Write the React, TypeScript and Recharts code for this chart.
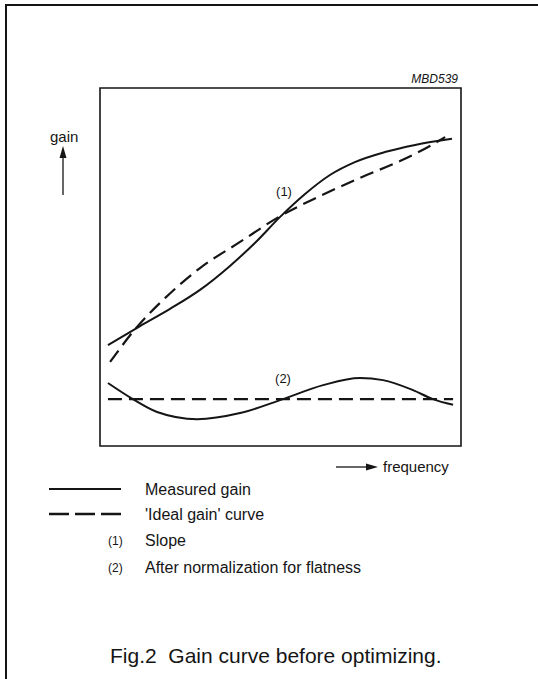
import React from 'react';
import { LineChart, Line, XAxis, YAxis, ReferenceArea } from 'recharts';

// x: frequency (0-100, arbitrary), y: gain (0-100, arbitrary)
const measuredSlopeX = [2.2, 11.1, 19.4, 27.7, 36.0, 42.9, 49.9, 56.8, 63.7, 70.6, 78.9, 87.3, 97.5];
const measuredSlopeY = [28.2, 33.5, 38.3, 43.6, 50.3, 56.7, 64.0, 70.4, 75.7, 79.3, 82.1, 84.1, 85.8];

const idealSlopeX = [2.8, 10.2, 18.0, 27.7, 38.8, 49.9, 60.9, 72.0, 83.1, 91.4, 95.6];
const idealSlopeY = [23.5, 33.2, 41.3, 49.7, 57.0, 64.2, 69.8, 74.9, 79.6, 83.8, 86.3];

const measuredFlatX = [2.2, 9.1, 15.8, 26.9, 38.8, 50.7, 61.8, 72.0, 78.4, 86.7, 92.2, 97.8];
const measuredFlatY = [17.6, 13.1, 9.5, 7.5, 9.2, 13.1, 17.0, 19.0, 18.4, 15.6, 13.1, 11.5];

const idealFlatX = [2.2, 97.8];
const idealFlatY = [13.1, 13.1];

const legendItems = ['Measured gain', "'Ideal gain' curve"];
const noteLabels = ['(1)', '(2)'];
const noteTexts = ['Slope', 'After normalization for flatness'];

const toPoints = (xs: number[], ys: number[]) => xs.map((x, i) => ({ x, y: ys[i] }));

const INK = '#151515';
const FONT = '"Liberation Sans", Arial, Helvetica, sans-serif';

export default function App() {
  return (
    <div style={{ position: 'absolute', left: 0, top: 0, width: 538, height: 679, background: '#fff', fontFamily: FONT }}>
      <LineChart width={538} height={679} margin={{ top: 88, right: 77, bottom: 233, left: 100 }}>
        <XAxis type="number" dataKey="x" domain={[0, 100]} hide />
        <YAxis type="number" dataKey="y" domain={[0, 100]} hide />
        <ReferenceArea x1={0} x2={100} y1={0} y2={100} fill="none" stroke={INK} strokeWidth={1.6} fillOpacity={0} />
        <Line data={toPoints(measuredSlopeX, measuredSlopeY)} dataKey="y" type="monotone" stroke={INK} strokeWidth={2} dot={false} isAnimationActive={false} />
        <Line data={toPoints(idealSlopeX, idealSlopeY)} dataKey="y" type="monotone" stroke={INK} strokeWidth={2.2} strokeDasharray="14 7" dot={false} isAnimationActive={false} />
        <Line data={toPoints(measuredFlatX, measuredFlatY)} dataKey="y" type="monotone" stroke={INK} strokeWidth={2} dot={false} isAnimationActive={false} />
        <Line data={toPoints(idealFlatX, idealFlatY)} dataKey="y" type="linear" stroke={INK} strokeWidth={2.4} strokeDasharray="14 7" dot={false} isAnimationActive={false} />
      </LineChart>

      <svg width={538} height={679} style={{ position: 'absolute', left: 0, top: 0, pointerEvents: 'none' }}>
        {/* page frame */}
        <polyline points="538,5 6,5 6,679" fill="none" stroke={INK} strokeWidth={2} />

        <text x={458} y={83} textAnchor="end" fontSize={12} fontStyle="italic" fontFamily={FONT} fill={INK}>MBD539</text>

        {/* y axis label */}
        <text x={50} y={142} fontSize={15} fontFamily={FONT} fill={INK}>gain</text>
        <line x1={63} y1={195} x2={63} y2={156} stroke={INK} strokeWidth={1.3} />
        <polygon points="63,146 59.5,158 66.5,158" fill={INK} />

        {/* x axis label */}
        <line x1={336} y1={467} x2={368} y2={467} stroke={INK} strokeWidth={1.3} />
        <polygon points="378,467 366,463.5 366,470.5" fill={INK} />
        <text x={383} y={472} fontSize={15} fontFamily={FONT} fill={INK}>frequency</text>

        {/* curve labels */}
        <text x={284} y={196} textAnchor="middle" fontSize={13} fontFamily={FONT} fill={INK}>{noteLabels[0]}</text>
        <text x={283} y={383} textAnchor="middle" fontSize={13} fontFamily={FONT} fill={INK}>{noteLabels[1]}</text>

        {/* legend */}
        <line x1={49} y1={489} x2={121} y2={489} stroke={INK} strokeWidth={2} />
        <text x={145} y={495} fontSize={16} fontFamily={FONT} fill={INK}>{legendItems[0]}</text>
        <line x1={49} y1={514} x2={121} y2={514} stroke={INK} strokeWidth={2.4} strokeDasharray="20 6" />
        <text x={145} y={520} fontSize={16} fontFamily={FONT} fill={INK}>{legendItems[1]}</text>

        <text x={108} y={545} fontSize={12} fontFamily={FONT} fill={INK}>{noteLabels[0]}</text>
        <text x={145} y={546} fontSize={16} fontFamily={FONT} fill={INK}>{noteTexts[0]}</text>
        <text x={108} y={572} fontSize={12} fontFamily={FONT} fill={INK}>{noteLabels[1]}</text>
        <text x={145} y={573} fontSize={16} fontFamily={FONT} fill={INK}>{noteTexts[1]}</text>

        <text x={110} y={663} fontSize={21} fontFamily={FONT} fill={INK} xmlSpace="preserve">Fig.2  Gain curve before optimizing.</text>
      </svg>
    </div>
  );
}
